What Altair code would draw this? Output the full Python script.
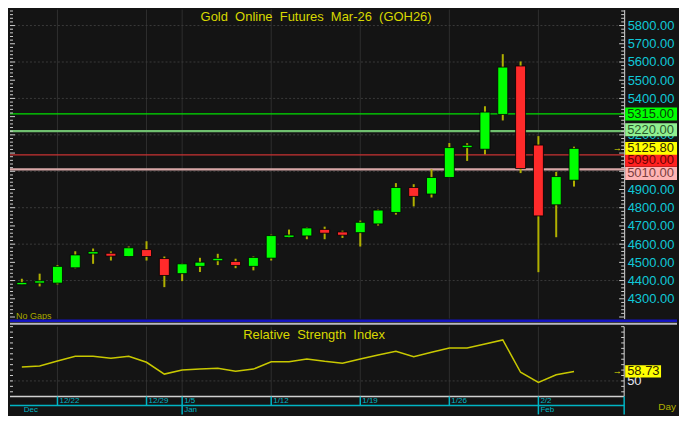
import altair as alt
import pandas as pd

# ---------------- data ----------------
opens = [4377, 4386, 4386, 4470, 4546, 4550, 4532, 4570, 4521, 4438, 4478, 4509, 4505, 4478, 4523, 4637,
         4645, 4681, 4667, 4663, 4711, 4774, 4911, 4875, 4966, 5130, 5121, 5312, 5578, 5144, 4816, 4951]
highs = [4410, 4438, 4485, 4561, 4576, 4560, 4587, 4616, 4532, 4494, 4525, 4547, 4520, 4532, 4652, 4680,
         4692, 4696, 4674, 4729, 4790, 4935, 4929, 5011, 5155, 5154, 5357, 5643, 5603, 5193, 4997, 5135]
lows = [4376, 4368, 4379, 4467, 4492, 4510, 4530, 4510, 4364, 4397, 4447, 4485, 4468, 4456, 4510, 4634,
        4627, 4627, 4634, 4587, 4702, 4762, 4807, 4856, 4963, 5057, 5093, 5279, 4990, 4446, 4638, 4916]
closes = [4390, 4399, 4478, 4541, 4559, 4534, 4580, 4532, 4428, 4492, 4501, 4522, 4483, 4527, 4647, 4650,
          4689, 4660, 4649, 4720, 4787, 4911, 4862, 4966, 5130, 5143, 5325, 5572, 5015, 4755, 4971, 5125.8]
rsi = [62.9, 63.7, 68.4, 72.8, 72.8, 71.0, 72.8, 67.2, 56.3, 60.0, 60.9, 61.7, 58.9, 60.9, 67.6, 67.6,
       70.2, 68.1, 66.4, 70.2, 73.9, 77.4, 72.4, 76.5, 80.3, 80.3, 84.1, 87.8, 58.0, 48.7, 55.7, 58.73]

week_idx = [2, 7, 9, 14, 19, 24, 29]
week_labels = ["12/22", "12/29", "1/5", "1/12", "1/19", "1/26", "2/2"]
month_idx = [0, 9, 29]
month_labels = ["Dec", "Jan", "Feb"]

# price axis labels (5300, 5100, 5000 sit fully under the level boxes)
price_ticks = [4300, 4400, 4500, 4600, 4700, 4800, 4900, 5200, 5400, 5500, 5600, 5700, 5800]
grid_prices = list(range(4400, 5801, 200))
minor_prices = list(range(4200, 5881, 20))
rsi_ticks = list(range(40, 101, 5))

level_values = [5315, 5220, 5090, 5010]
last_price = 5125.80
last_rsi = 58.73
rsi_label = [50]

title_text = "Gold\u00a0\u00a0Online\u00a0\u00a0Futures\u00a0\u00a0Mar-26\u00a0\u00a0(GOH26)"
rsi_title = "Relative\u00a0\u00a0Strength\u00a0\u00a0Index"

# ---------------- styles ----------------
level_line_colors = ["#00e000", "#6fbf6f", "#c83232", "#d8a8a8"]
level_line_widths = [1.3, 2.2, 1.3, 2.2]
level_box_colors = ["#00ff00", "#90f090", "#ff2020", "#ffb4b4"]
level_text_colors = ["#0a400a", "#2a5a2a", "#6a0000", "#7a4040"]
level_offsets = [0, -1.5, 5.5, 4]

BG = "#141414"
FONT = "Liberation Sans"
CYAN = "#10c8d8"
DCYAN = "#00b4c4"
W = 616
H = 406
XD = [-0.385, 33.535]
PD = [4190.8, 5887.6]
PR = [310, 0]
RD = [35.7, 100.0]
RR = [388, 318]


def X(f="i"):
    return alt.X(f"{f}:Q", scale=alt.Scale(domain=XD, nice=False, zero=False), axis=None)


def YP(f, axis=None):
    return alt.Y(f"{f}:Q", scale=alt.Scale(domain=PD, range=PR, nice=False, zero=False), axis=axis)


def YR(f):
    return alt.Y(f"{f}:Q", scale=alt.Scale(domain=RD, range=RR, nice=False, zero=False), axis=None)


n = len(closes)
candles = pd.DataFrame({"i": list(range(n)), "o": opens, "h": highs, "l": lows, "c": closes, "r": rsi})
candles["lo"] = candles[["o", "c"]].min(axis=1)
candles["hi"] = candles[["o", "c"]].max(axis=1)
candles["dir"] = ["up" if c >= o else "down" for o, c in zip(opens, closes)]

weeks = pd.DataFrame({"i": week_idx, "t": week_labels})
months = pd.DataFrame({"i": month_idx, "t": month_labels})
one = pd.DataFrame({"a": [0]})

L = []
# vertical grid lines (main + rsi)
L.append(alt.Chart(weeks).mark_rule(color="#2e2e2e", strokeWidth=1).encode(
    x=X(), y=alt.value(0), y2=alt.value(310)))
L.append(alt.Chart(weeks).mark_rule(color="#2e2e2e", strokeWidth=1).encode(
    x=X(), y=alt.value(318), y2=alt.value(388)))
# horizontal grid
L.append(alt.Chart(pd.DataFrame({"v": grid_prices})).mark_rule(
    color="#3a3a3a", strokeDash=[2, 2]).encode(y=YP("v"), x=alt.value(0), x2=alt.value(W)))
L.append(alt.Chart(pd.DataFrame({"v": rsi_label})).mark_rule(
    color="#3a3a3a", strokeDash=[2, 2]).encode(y=YR("v"), x=alt.value(0), x2=alt.value(W)))

# level lines
for v, col, sw in zip(level_values, level_line_colors, level_line_widths):
    L.append(alt.Chart(pd.DataFrame({"v": [v]})).mark_rule(color=col, strokeWidth=sw).encode(
        y=YP("v"), x=alt.value(0), x2=alt.value(W)))

# candles
L.append(alt.Chart(candles).mark_rule(color="#b0b000", strokeWidth=2).encode(
    x=X(), y=YP("l"), y2="h"))
price_axis = alt.Axis(orient="right", values=price_ticks, format=".2f", labelColor=CYAN,
                      labelFont=FONT, labelFontSize=13, labelPadding=3, ticks=False,
                      domainColor="#d8d8d8", domainWidth=1, grid=False, title=None,
                      labelOverlap=False, labelFlush=False)
L.append(alt.Chart(candles).mark_bar(size=10, stroke="#000000", strokeWidth=0.8).encode(
    x=X(), y=YP("lo", axis=price_axis), y2="hi",
    color=alt.Color("dir:N", scale=alt.Scale(domain=["up", "down"], range=["#00ff00", "#ff2a2a"]),
                    legend=None)))

# minor ticks, price panel
minor_df = pd.DataFrame({"v": [v for v in minor_prices if v % 100 != 0]})
major_df = pd.DataFrame({"v": [v for v in minor_prices if v % 100 == 0]})
for df, ln in ((minor_df, 3), (major_df, 5)):
    L.append(alt.Chart(df).mark_rule(color="#d0d0d0").encode(
        y=YP("v"), x=alt.value(0), x2=alt.value(ln)))
    L.append(alt.Chart(df).mark_rule(color="#d0d0d0").encode(
        y=YP("v"), x=alt.value(W - ln), x2=alt.value(W)))

# titles
L.append(alt.Chart(one).mark_text(font=FONT, fontSize=13, color="#d8d800", baseline="middle").encode(
    x=alt.value(307), y=alt.value(7), text=alt.value(title_text)))
L.append(alt.Chart(one).mark_text(font=FONT, fontSize=9, color="#a8a800", baseline="middle",
                                  align="left").encode(
    x=alt.value(6), y=alt.value(307), text=alt.value("No Gaps")))

# level boxes on the price axis
HALF = 35.6
for v, bc, tc, off in zip(level_values, level_box_colors, level_text_colors, level_offsets):
    d = pd.DataFrame({"v": [v], "t": [f"{v:.2f}"]})
    L.append(alt.Chart(d).transform_calculate(lo=f"datum.v - {HALF}", hi=f"datum.v + {HALF}").mark_rect(
        color=bc, yOffset=off, y2Offset=off).encode(
        x=alt.value(W + 1), x2=alt.value(W + 53), y=YP("lo"), y2="hi"))
    L.append(alt.Chart(d).mark_text(font=FONT, fontSize=13, color=tc, align="left", baseline="middle",
                                    dy=off).encode(x=alt.value(W + 3), y=YP("v"), text="t:N"))
dlast = pd.DataFrame({"v": [last_price], "t": [f"{last_price:.2f}"]})
L.append(alt.Chart(dlast).transform_calculate(lo=f"datum.v - {HALF}", hi=f"datum.v + {HALF}").mark_rect(
    color="#ffff00").encode(x=alt.value(W + 1), x2=alt.value(W + 53), y=YP("lo"), y2="hi"))
L.append(alt.Chart(dlast).mark_text(font=FONT, fontSize=13, color="#302800", align="left",
                                    baseline="middle").encode(x=alt.value(W + 3), y=YP("v"), text="t:N"))
L.append(alt.Chart(dlast).mark_text(font=FONT, fontSize=9, color="#e8e800", baseline="middle").encode(
    x=alt.value(W - 7), y=YP("v"), text=alt.value("→")))

# separators between the panels
L.append(alt.Chart(one).mark_rule(color="#1414c0", strokeWidth=2.5).encode(
    x=alt.value(0), x2=alt.value(669), y=alt.value(312)))
L.append(alt.Chart(one).mark_rule(color="#b8b8c0", strokeWidth=2).encode(
    x=alt.value(0), x2=alt.value(669), y=alt.value(315)))

# RSI panel
L.append(alt.Chart(candles).mark_line(color="#c8c800", strokeWidth=1.5).encode(x=X(), y=YR("r")))
L.append(alt.Chart(one).mark_text(font=FONT, fontSize=13, color="#d8d800", baseline="middle").encode(
    x=alt.value(305), y=alt.value(326), text=alt.value(rsi_title)))
rt = pd.DataFrame({"v": rsi_ticks})
L.append(alt.Chart(rt).mark_rule(color="#d0d0d0").encode(y=YR("v"), x=alt.value(0), x2=alt.value(3)))
L.append(alt.Chart(rt).mark_rule(color="#d0d0d0").encode(y=YR("v"), x=alt.value(W - 3), x2=alt.value(W)))
L.append(alt.Chart(one).mark_rule(color="#d8d8d8").encode(
    x=alt.value(W), y=alt.value(318), y2=alt.value(388)))
L.append(alt.Chart(one).mark_rule(color="#d0d0d0", strokeWidth=1.5).encode(
    x=alt.value(0), x2=alt.value(W), y=alt.value(388)))
L.append(alt.Chart(pd.DataFrame({"v": rsi_label, "t": [str(x) for x in rsi_label]})).mark_text(
    font=FONT, fontSize=13, color="#e4e4f0", align="left", baseline="middle").encode(
    x=alt.value(W + 3), y=YR("v"), text="t:N"))
dr = pd.DataFrame({"v": [last_rsi], "t": [f"{last_rsi:.2f}"]})
L.append(alt.Chart(dr).transform_calculate(lo="datum.v - 5.6", hi="datum.v + 5.6").mark_rect(
    color="#ffff00").encode(x=alt.value(W + 1), x2=alt.value(W + 37), y=YR("lo"), y2="hi"))
L.append(alt.Chart(dr).mark_text(font=FONT, fontSize=13, color="#302800", align="left",
                                 baseline="middle").encode(x=alt.value(W + 3), y=YR("v"), text="t:N"))
L.append(alt.Chart(dr).mark_text(font=FONT, fontSize=9, color="#e8e800", baseline="middle").encode(
    x=alt.value(W - 7), y=YR("v"), text=alt.value("→")))

# date axis
L.append(alt.Chart(weeks).mark_rule(color=DCYAN, strokeWidth=1.5).encode(
    x=X(), y=alt.value(388), y2=alt.value(397)))
L.append(alt.Chart(one).mark_rule(color=DCYAN, strokeWidth=1.5).encode(
    x=alt.value(0), x2=alt.value(W), y=alt.value(397)))
L.append(alt.Chart(months).transform_filter("datum.i > 0").mark_rule(color=DCYAN, strokeWidth=1.5).encode(
    x=X(), y=alt.value(397), y2=alt.value(406)))
L.append(alt.Chart(one).mark_rule(color=DCYAN, strokeWidth=1.5).encode(
    x=alt.value(W), y=alt.value(388), y2=alt.value(406)))
L.append(alt.Chart(weeks).mark_text(font=FONT, fontSize=8, color=DCYAN, align="left", baseline="middle",
                                    dx=2).encode(x=X(), y=alt.value(393), text="t:N"))
L.append(alt.Chart(months).mark_text(font=FONT, fontSize=8, color=DCYAN, align="left", baseline="middle",
                                     dx=2).encode(x=X(), y=alt.value(402), text="t:N"))
L.append(alt.Chart(one).mark_text(font=FONT, fontSize=10, color="#b0b000", align="right",
                                  baseline="middle").encode(x=alt.value(668), y=alt.value(399),
                                                            text=alt.value("Day")))

chart = alt.layer(*L).resolve_scale(y="independent").properties(
    width=W, height=H, padding={"left": 0, "top": 0, "right": 0, "bottom": 0}
).configure(background=BG).configure_view(fill=BG, stroke=BG, strokeWidth=0)

chart.save("out.html", embed_options={"renderer": "svg", "actions": False})
